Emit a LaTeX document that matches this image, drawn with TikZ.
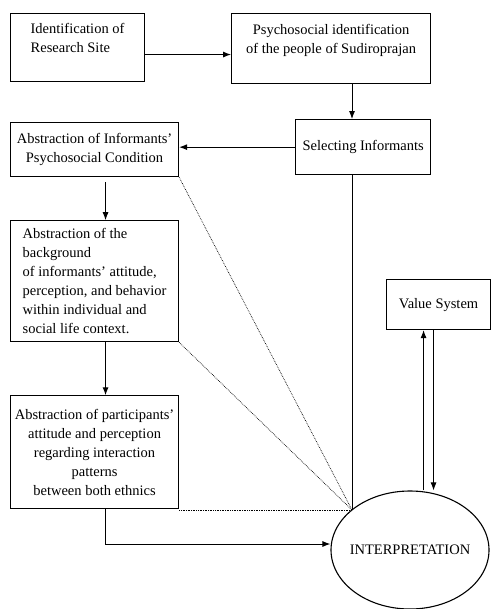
\documentclass[tikz,border=0pt]{standalone}
\usepackage{fontspec}
\setmainfont{Liberation Serif}
\usetikzlibrary{arrows.meta,positioning,shapes.geometric,calc}

\begin{document}
\begin{tikzpicture}[
      x=1pt,y=-1pt,
      font=\fontsize{14.5}{19}\selectfont,
      box/.style={draw,line width=1.1pt,inner sep=2pt,
        anchor=north west,align=center},
      arr/.style={-{Latex[length=8pt,width=6pt]},line width=1pt},
      dots/.style={densely dotted,line width=0.7pt}
    ]
      \useasboundingbox (0,0) rectangle (491,609);
      \node[box,minimum width=134pt,minimum height=68pt,align=left](site) at (10,13)
        {Identification of\\Research Site\\~};
      \node[box,minimum width=199pt,minimum height=70pt,
        right=86pt of site.north east,anchor=north west](psych)
        {Psychosocial identification\\of the people of Sudiroprajan\\~};
      \node[box,minimum width=135pt,minimum height=55pt,
        below=35pt of psych.south east,anchor=north east](select)
        {Selecting Informants};
      \node[box,minimum width=168pt,minimum height=54pt,
        below=40pt of site.south west,anchor=north west](cond)
        {Abstraction of Informants'\\Psychosocial Condition};
      \node[box,minimum width=168pt,minimum height=121pt,align=left,
        below=43pt of cond.south west,anchor=north west](backg)
        {Abstraction of the\\background\\of informants' attitude,\\
         perception, and behavior\\within individual and\\social life context.};
      \node[box,minimum width=168pt,minimum height=113pt,inner sep=1pt,
        below=53pt of backg.south west,anchor=north west](partic)
        {Abstraction of participants'\\attitude and perception\\
         regarding interaction\\patterns\\between both ethnics};
      \node[box,minimum width=104pt,minimum height=50pt](value) at (386,279)
        {Value System};
      \node[ellipse,draw,line width=1.1pt,inner xsep=-14pt,minimum width=158pt,
        minimum height=118pt](interp) at (410,550) {INTERPRETATION};

      \coordinate (meet) at (352,510);

      \draw[arr]([yshift=-7pt]site.east)--([yshift=-7pt]site.east -| psych.west);
      \draw[arr](meet |- psych.south)--(meet |- select.north);
      \draw[arr](select.west)--(select.west -| cond.east);
      \draw[arr,shorten <=5pt]([xshift=11pt]cond.south)--([xshift=11pt]backg.north);
      \draw[arr]([xshift=11pt]backg.south)--([xshift=11pt]partic.north);
      \draw[arr]([xshift=11pt]partic.south)|-([yshift=6pt]interp.west);
      \draw[line width=1pt](select.south -| meet)--(meet);
      \draw[dots](cond.south east)--(meet);
      \draw[dots](backg.south east)--(meet);
      \draw[dots](meet -| partic.east)--(meet);
      \draw[arr]([xshift=-15pt]value.south |- interp.north)--([xshift=-15pt]value.south);
      \draw[arr]([xshift=-5pt]value.south)--([xshift=-5pt]value.south |- interp.north);
    \end{tikzpicture}
\end{document}
